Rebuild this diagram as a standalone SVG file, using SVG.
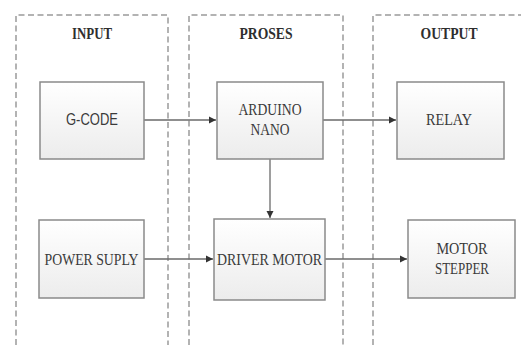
<svg xmlns="http://www.w3.org/2000/svg" width="521" height="345" viewBox="0 0 521 345">
<style>
.zone{fill:none;stroke:#9a9a9a;stroke-width:1.5;stroke-dasharray:6 3.5}
.box{fill:url(#g);stroke:#8a8a8a;stroke-width:1.5}
.title{font-family:"Liberation Serif",serif;font-weight:bold;font-size:16px;fill:#2e2e2e;text-anchor:middle}
.lbl{font-family:"Liberation Serif",serif;font-size:16px;fill:#3a3a3a;text-anchor:middle}
.sans{font-family:"Liberation Sans",sans-serif;font-size:16px;fill:#3a3a3a;text-anchor:middle}
.conn{fill:none;stroke:#6a6a6a;stroke-width:1.3;marker-end:url(#ah)}
</style>
<defs>
<linearGradient id="g" x1="0" y1="0" x2="0" y2="1">
<stop offset="0" stop-color="#ffffff"/>
<stop offset="1" stop-color="#ececec"/>
</linearGradient>
<marker id="ah" markerWidth="8" markerHeight="8" refX="7" refY="4" orient="auto" markerUnits="userSpaceOnUse">
<path d="M0,0.5 L7,4 L0,7.5 Z" fill="#333"/>
</marker>
</defs>
<rect width="521" height="345" fill="#ffffff"/>
<g id="zone-input">
<path class="zone" d="M16,345 V15 H168 V345"/>
<text class="title" x="92" y="39" textLength="40" lengthAdjust="spacingAndGlyphs">INPUT</text>
</g>
<g id="zone-proses">
<path class="zone" d="M189,345 V15 H343 V345"/>
<text class="title" x="266" y="39" textLength="53" lengthAdjust="spacingAndGlyphs">PROSES</text>
</g>
<g id="zone-output">
<path class="zone" d="M373,345 V15 H521"/>
<text class="title" x="449" y="39" textLength="57" lengthAdjust="spacingAndGlyphs">OUTPUT</text>
</g>
<g id="connectors">
<path class="conn" d="M144,120 H216"/>
<path class="conn" d="M323,120 H396"/>
<path class="conn" d="M270,159 V218"/>
<path class="conn" d="M144,259 H213"/>
<path class="conn" d="M325,259 H407"/>
</g>
<g id="gcode">
<rect class="box" x="40" y="82" width="104" height="77"/>
<text class="sans" x="92" y="125" textLength="52" lengthAdjust="spacingAndGlyphs">G-CODE</text>
</g>
<g id="arduino">
<rect class="box" x="217" y="82" width="106" height="77"/>
<text class="lbl" x="270" y="115" textLength="63" lengthAdjust="spacingAndGlyphs">ARDUINO</text>
<text class="lbl" x="270" y="135" textLength="39" lengthAdjust="spacingAndGlyphs">NANO</text>
</g>
<g id="relay">
<rect class="box" x="397" y="82" width="107" height="77"/>
<text class="lbl" x="449" y="125" textLength="46" lengthAdjust="spacingAndGlyphs">RELAY</text>
</g>
<g id="power">
<rect class="box" x="39" y="220" width="105" height="78"/>
<text class="lbl" x="91.5" y="265" textLength="94" lengthAdjust="spacingAndGlyphs">POWER SUPLY</text>
</g>
<g id="driver">
<rect class="box" x="214" y="219" width="111" height="81"/>
<text class="lbl" x="269.5" y="265" textLength="105" lengthAdjust="spacingAndGlyphs">DRIVER MOTOR</text>
</g>
<g id="stepper">
<rect class="box" x="408" y="220" width="107" height="78"/>
<text class="lbl" x="462" y="254" textLength="51" lengthAdjust="spacingAndGlyphs">MOTOR</text>
<text class="lbl" x="462" y="274" textLength="54" lengthAdjust="spacingAndGlyphs">STEPPER</text>
</g>
</svg>
